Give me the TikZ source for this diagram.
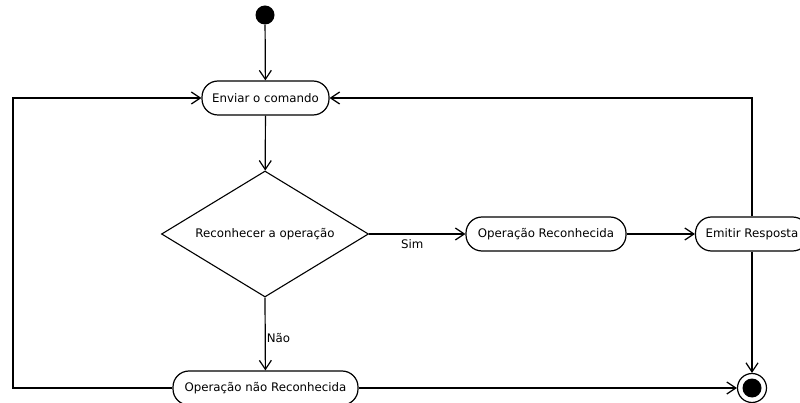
\documentclass[tikz,border=0pt]{standalone}
\usepackage{fontspec}
\setmainfont{DejaVu Sans}
\usetikzlibrary{shapes,arrows.meta,positioning,calc}

\begin{document}
\begin{tikzpicture}[x=1pt, y=-1pt,
    acao/.style={draw, line width=1.2pt, rounded corners=16pt, minimum height=34pt,
        inner sep=0pt, font=\fontsize{11.8}{14}\selectfont},
    decisao/.style={draw, diamond, aspect=1.64, line width=1.1pt, inner sep=0pt,
        minimum width=207pt, minimum height=126pt, font=\fontsize{11.8}{14}\selectfont},
    fluxo/.style={line width=1.2pt, -{Straight Barb[length=9pt,width=12pt,line width=1.2pt]}},
    rotulo/.style={font=\fontsize{11.8}{14}\selectfont, inner sep=2pt}]
    \useasboundingbox (0,0) rectangle (800,403);

    % Initial and final states
    \node[circle, fill=black, minimum size=19pt, inner sep=0pt] (inicio) at (265,15) {};
    \node[circle, draw, line width=1.2pt, minimum size=29pt, inner sep=0pt,
        path picture={\fill (path picture bounding box.center) circle (9.5pt);}] (fim) at (752,388) {};

    % Activities
    \node[acao, minimum width=127pt] (enviar) at (265.5,98) {Enviar o comando};
    \node[decisao] (reconhecer) at (265,234) {Reconhecer a operação};
    \node[acao, minimum width=160pt] (reconhecida) at (546,234) {Operação Reconhecida};
    \node[acao, minimum width=113pt] (emitir) at (752,234) {Emitir Resposta};
    \node[acao, minimum width=185pt] (naorec) at (265.5,388) {Operação não Reconhecida};

    % Loop-back corner on the left
    \coordinate (retorno) at (13,98);

    % Transitions
    \draw[fluxo] (inicio) -- (enviar);
    \draw[fluxo] (enviar) -- (reconhecer);
    \draw[fluxo] (reconhecer.east) -- node[rotulo, below, xshift=-5pt, yshift=-3pt] {Sim} (reconhecida);
    \draw[fluxo] (reconhecida) -- (emitir);
    \draw[fluxo] (reconhecer.south) -- node[rotulo, right, inner sep=1pt, yshift=-4pt] {Não} (naorec);
    \draw[fluxo] (emitir) -- (fim);
    \draw[fluxo] (emitir.north) |- (enviar.east);
    \draw[fluxo] (naorec) -- (fim);
    \draw[fluxo] (naorec.west) -| (retorno) -- (enviar.west);
\end{tikzpicture}
\end{document}
